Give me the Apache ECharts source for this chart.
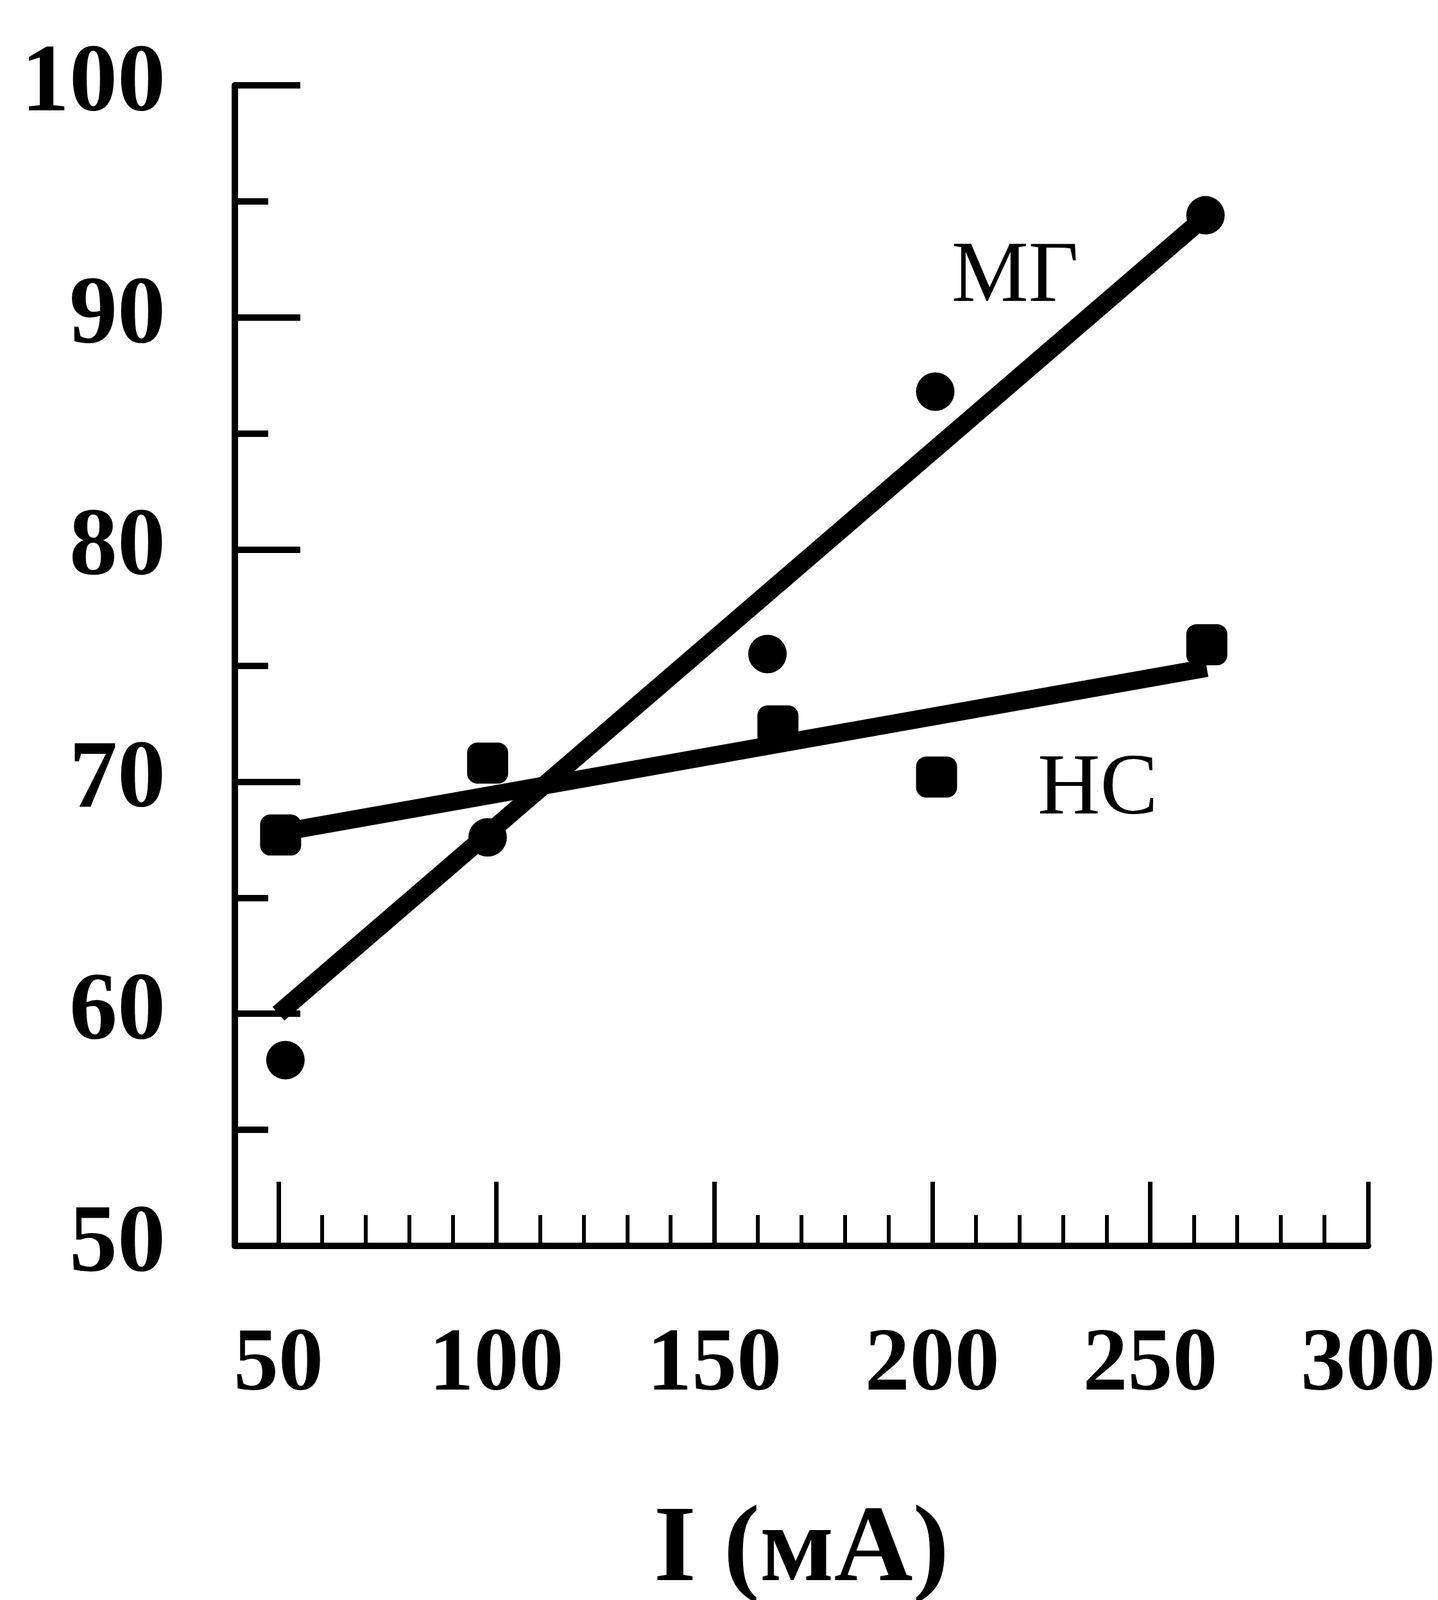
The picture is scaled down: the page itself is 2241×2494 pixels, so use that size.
<!DOCTYPE html>
<html>
<head>
<meta charset="utf-8">
<script src="https://cdn.jsdelivr.net/npm/echarts@6/dist/echarts.min.js"></script>
<style>
html,body{margin:0;padding:0;background:#fff;overflow:hidden;}
#chart{width:2241px;height:2494px;}
</style>
</head>
<body>
<div id="chart"></div>
<script>
// ---- data ----
const mgX = [51.6, 98, 162.2, 200.7, 262.7];
const mgY = [58.0, 67.6, 75.5, 86.8, 94.4];
const ncX = [50.5, 98, 164.6, 201, 263];
const ncY = [67.7, 70.8, 72.4, 70.2, 75.9];
const mgFitX = [50, 263];
const mgFitY = [60.0, 94.4];
const ncFitX = [50, 263];
const ncFitY = [67.8, 74.9];
const xMajorTicks = [50, 100, 150, 200, 250, 300];
const xMinorTicks = [60,70,80,90,110,120,130,140,160,170,180,190,210,220,230,240,260,270,280,290];
const yTickLabels = [50, 60, 70, 80, 90, 100];
const mgLabel = 'МГ', ncLabel = 'НС';
const mgLabelPos = [219, 91.7];
const ncLabelPos = [238, 69.6];
const xName = 'I (мА)';

const zip = (a, b) => a.map((v, i) => [v, b[i]]);
const serif = '"Liberation Serif", "DejaVu Serif", serif';
const black = '#000';

const chart = echarts.init(document.getElementById('chart'));
chart.setOption({
  backgroundColor: '#fff',
  animation: false,
  grid: { left: 366, right: 109, top: 133, bottom: 552, containLabel: false, outerBoundsMode: 'none' },
  xAxis: [{
    type: 'value', min: 40, max: 300,
    axisLine: { show: true, lineStyle: { color: black, width: 10 } },
    splitLine: { show: false },
    axisTick: { show: true, inside: true, length: 100, customValues: xMajorTicks,
      lineStyle: { color: black, width: 7 } },
    axisLabel: { show: true, customValues: xMajorTicks, margin: 118,
      color: black, fontFamily: serif, fontWeight: 'bold', fontSize: 140 },
    name: xName, nameLocation: 'middle', nameGap: 392,
    nameTextStyle: { color: black, fontFamily: serif, fontWeight: 'bold', fontSize: 170 }
  }, {
    type: 'value', min: 40, max: 300, position: 'bottom',
    axisLine: { show: false },
    splitLine: { show: false },
    axisTick: { show: true, inside: true, length: 48, customValues: xMinorTicks,
      lineStyle: { color: black, width: 6 } },
    axisLabel: { show: false }
  }],
  yAxis: {
    type: 'value', min: 50, max: 100, interval: 10,
    axisLine: { show: true, lineStyle: { color: black, width: 10 } },
    splitLine: { show: false },
    axisTick: { show: true, inside: true, length: 102, lineStyle: { color: black, width: 10 } },
    minorTick: { show: true, splitNumber: 2, length: 52, lineStyle: { color: black, width: 10 } },
    axisLabel: { show: true, margin: 108, color: black, fontFamily: serif,
      fontWeight: 'bold', fontSize: 150,
      formatter: v => yTickLabels.includes(v) ? String(v) : '' }
  },
  series: [
    {
      name: 'МГ fit', type: 'line', data: zip(mgFitX, mgFitY), showSymbol: false, symbol: 'none',
      lineStyle: { color: black, width: 28, cap: 'butt' }, z: 3,
      markPoint: { symbol: 'circle', symbolSize: 0,
        label: { show: true, position: 'inside', formatter: mgLabel, color: black,
          fontFamily: serif, fontSize: 135 },
        data: [{ coord: mgLabelPos }] }
    },
    {
      name: 'НС fit', type: 'line', data: zip(ncFitX, ncFitY), showSymbol: false, symbol: 'none',
      lineStyle: { color: black, width: 28, cap: 'butt' }, z: 3,
      markPoint: { symbol: 'circle', symbolSize: 0,
        label: { show: true, position: 'inside', formatter: ncLabel, color: black,
          fontFamily: serif, fontSize: 135 },
        data: [{ coord: ncLabelPos }] }
    },
    {
      name: 'МГ', type: 'scatter', data: zip(mgX, mgY), symbol: 'circle', symbolSize: 60,
      itemStyle: { color: black, opacity: 1 }, z: 4
    },
    {
      name: 'НС', type: 'scatter', data: zip(ncX, ncY), symbol: 'roundRect', symbolSize: 64,
      itemStyle: { color: black, opacity: 1 }, z: 4
    }
  ]
});
</script>
</body>
</html>
